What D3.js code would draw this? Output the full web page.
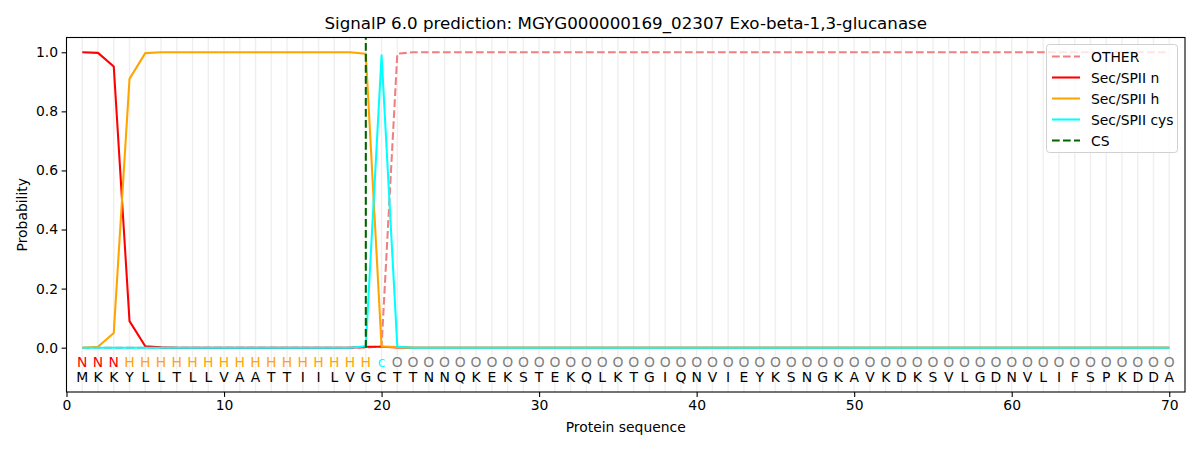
<!DOCTYPE html>
<html><head><meta charset="utf-8">
<script src="https://cdn.jsdelivr.net/npm/d3@7/dist/d3.min.js"></script>
<style>body{margin:0;background:#fff}svg{font-family:"DejaVu Sans",sans-serif}</style>
</head><body><svg id="c" width="1200" height="450"></svg>
<script>
const sequence = "MKKYLLTLLVAATTIILVGCTTNNQKEKSTEKQLKTGIQNVIEYKSNGKAVKDKSVLGDNVLIFSPKDDA".split("");
const regionLabels = "NNNHHHHHHHHHHHHHHHHcOOOOOOOOOOOOOOOOOOOOOOOOOOOOOOOOOOOOOOOOOOOOOOOOOO".split("");
const positions = d3.range(1, 71);
const otherVals = [0,0,0,0,0,0,0,0,0,0, 0,0,0,0,0,0,0,0,0,0.005, 0.995,1,1,1,1,1,1,1,1,1,
  1,1,1,1,1,1,1,1,1,1, 1,1,1,1,1,1,1,1,1,1, 1,1,1,1,1,1,1,1,1,1, 1,1,1,1,1,1,1,1,1,1];
const secN = [1.0,0.998,0.952,0.09,0.005,0.001,0,0,0,0, 0,0,0,0,0,0,0,0,0.003,0.003, 0.001,0,0,0,0,0,0,0,0,0,
  0,0,0,0,0,0,0,0,0,0, 0,0,0,0,0,0,0,0,0,0, 0,0,0,0,0,0,0,0,0,0, 0,0,0,0,0,0,0,0,0,0];
const secH = [0,0.003,0.05,0.91,0.997,1,1,1,1,1, 1,1,1,1,1,1,1,1,0.995,0.004, 0.002,0,0,0,0,0,0,0,0,0,
  0,0,0,0,0,0,0,0,0,0, 0,0,0,0,0,0,0,0,0,0, 0,0,0,0,0,0,0,0,0,0, 0,0,0,0,0,0,0,0,0,0];
const secCys = [0,0,0,0,0,0,0,0,0,0, 0,0,0,0,0,0,0,0,0.005,0.99, 0.003,0,0,0,0,0,0,0,0,0,
  0,0,0,0,0,0,0,0,0,0, 0,0,0,0,0,0,0,0,0,0, 0,0,0,0,0,0,0,0,0,0, 0,0,0,0,0,0,0,0,0,0];
const csPos = 19;
const xTicks = [0,10,20,30,40,50,60,70];
const yTicks = [0,0.2,0.4,0.6,0.8,1.0];
const seriesNames = ["OTHER","Sec/SPII n","Sec/SPII h","Sec/SPII cys","CS"];
const labelColors = {N:"#ff0000",H:"#ffa500",c:"#00ffff",O:"#808080"};

const svg = d3.select("#c");
const L = 66.5, R = 1185, T = 37.5, B = 392;
const x = d3.scaleLinear().domain([0,71]).range([L,R]);
const y = d3.scaleLinear().domain([-0.15,1.05]).range([B,T]);
const lw = 2.08, dash = "7.7,3.3";

// vertical grid
svg.append("g").selectAll("line").data(positions).join("line")
  .attr("x1",d=>x(d)).attr("x2",d=>x(d)).attr("y1",T).attr("y2",B)
  .attr("stroke","#b0b0b0").attr("stroke-opacity",0.2).attr("stroke-width",1.4);

const line = d3.line().x((d,i)=>x(positions[i])).y(d=>y(d));
const series = [
  {v:otherVals,c:"#f08080",d:dash},
  {v:secN,c:"#ff0000",d:null},
  {v:secH,c:"#ffa500",d:null},
  {v:secCys,c:"#00ffff",d:null}
];
const clip = svg.append("clipPath").attr("id","clp").append("rect").attr("x",L).attr("y",T).attr("width",R-L).attr("height",B-T);
const g = svg.append("g").attr("clip-path","url(#clp)");
series.forEach(s=>{
  g.append("path").attr("d",line(s.v)).attr("fill","none").attr("stroke",s.c)
   .attr("stroke-width",lw).attr("stroke-dasharray",s.d).attr("stroke-linejoin","round");
});
g.append("line").attr("x1",x(csPos)).attr("x2",x(csPos)).attr("y1",y(0)).attr("y2",T)
  .attr("stroke","#006400").attr("stroke-width",lw).attr("stroke-dasharray",dash);

// sequence text
svg.append("g").selectAll("text").data(sequence).join("text")
  .attr("x",(d,i)=>x(positions[i])).attr("y",y(-0.1)).attr("text-anchor","middle")
  .attr("dominant-baseline","central").attr("font-size",13.9).attr("fill","#000").text(d=>d);
svg.append("g").selectAll("text").data(regionLabels).join("text")
  .attr("x",(d,i)=>x(positions[i])).attr("y",y(-0.05)).attr("text-anchor","middle")
  .attr("dominant-baseline","central").attr("font-size",13.9).attr("fill",d=>labelColors[d]).text(d=>d);

// axes
const xa = svg.append("g").attr("transform",`translate(0,${B})`)
  .call(d3.axisBottom(x).tickValues(xTicks).tickSize(4.9).tickPadding(3.5).tickFormat(d3.format("d")));
const ya = svg.append("g").attr("transform",`translate(${L},0)`)
  .call(d3.axisLeft(y).tickValues(yTicks).tickSize(4.9).tickPadding(3.5).tickFormat(d3.format(".1f")));
[xa,ya].forEach(a=>{a.select(".domain").remove();a.selectAll("text").attr("font-size",13.9).attr("fill","#000").attr("font-family","DejaVu Sans");a.selectAll("line").attr("stroke","#000").attr("stroke-width",1.1);});
svg.append("rect").attr("x",L).attr("y",T).attr("width",R-L).attr("height",B-T)
  .attr("fill","none").attr("stroke","#000").attr("stroke-width",1.1);

svg.append("text").attr("x",(L+R)/2).attr("y",29).attr("text-anchor","middle").attr("font-size",16.7).text("SignalP 6.0 prediction: MGYG000000169_02307 Exo-beta-1,3-glucanase");
svg.append("text").attr("x",(L+R)/2).attr("y",432).attr("text-anchor","middle").attr("font-size",13.9).text("Protein sequence");
svg.append("text").attr("transform",`translate(27,${(T+B)/2}) rotate(-90)`).attr("text-anchor","middle").attr("font-size",13.9).text("Probability");

// legend
const lg = svg.append("g");
lg.append("rect").attr("x",1046.5).attr("y",44.5).attr("width",131).attr("height",108).attr("rx",3)
  .attr("fill","#fff").attr("fill-opacity",0.8).attr("stroke","#d0d0d0").attr("stroke-width",1);
const legColors = ["#f08080","#ff0000","#ffa500","#00ffff","#006400"];
const legDash = [dash,null,null,null,dash];
seriesNames.forEach((n,i)=>{
  const yy = 56.5 + i*21;
  lg.append("line").attr("x1",1052).attr("x2",1080).attr("y1",yy).attr("y2",yy)
    .attr("stroke",legColors[i]).attr("stroke-width",lw).attr("stroke-dasharray",legDash[i]);
  lg.append("text").attr("x",1091).attr("y",yy).attr("dominant-baseline","central").attr("font-size",13.9).text(n);
});
</script></body></html>
